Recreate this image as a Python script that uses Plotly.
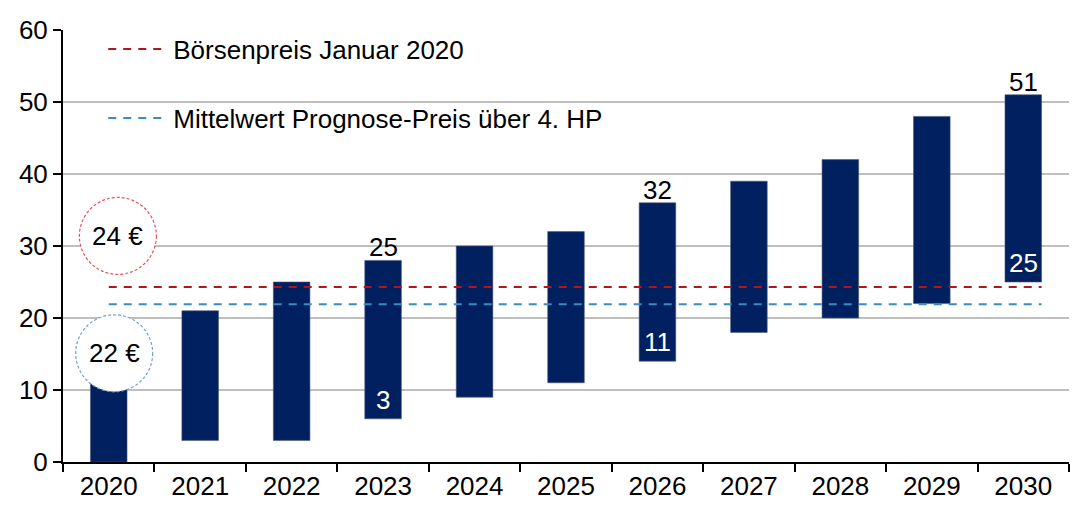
import plotly.graph_objects as go

years = [2020, 2021, 2022, 2023, 2024, 2025, 2026, 2027, 2028, 2029, 2030]
low = [0, 3, 3, 6, 9, 11, 14, 18, 20, 22, 25]
high = [12, 21, 25, 28, 30, 32, 36, 39, 42, 48, 51]

label_years = [2023, 2026, 2030]
top_labels = ["25", "32", "51"]
bottom_labels = ["3", "11", "25"]

boersen_price = 24.3
mean_forecast = 21.9
line_x = [2020, 2030.2]

circle_texts = ["24 €", "22 €"]
circle_x = [2020.1, 2020.06]
circle_y = [31.4, 15.1]
circle_colors = ["#E0565B", "#6FA3CF"]

FONT = "Arial, Liberation Sans, sans-serif"
navy = "#002060"

fig = go.Figure()
fig.add_trace(go.Bar(
    x=years, y=[h - l for h, l in zip(high, low)], base=low,
    width=0.4, marker=dict(color=navy, line=dict(color="#4a5878", width=0.6)),
    showlegend=False, hoverinfo="skip"))

fig.add_trace(go.Scatter(
    x=line_x, y=[boersen_price] * 2, mode="lines", name="Börsenpreis Januar 2020",
    line=dict(color="#B0161E", width=2, dash="8px,7px"), legendgroup="a"))
fig.add_trace(go.Scatter(
    x=line_x, y=[mean_forecast] * 2, mode="lines", name="Mittelwert Prognose-Preis über 4. HP",
    line=dict(color="#3A8BC2", width=2, dash="8px,7px"), legendgroup="b"))

yr_idx = {y: i for i, y in enumerate(years)}
for yv, t, b in zip(label_years, top_labels, bottom_labels):
    i = yr_idx[yv]
    fig.add_annotation(x=yv, y=high[i], text=t, showarrow=False, yanchor="bottom",
                       font=dict(size=26, color="black", family=FONT), yshift=-4)
    fig.add_annotation(x=yv, y=low[i], text=b, showarrow=False, yanchor="bottom",
                       font=dict(size=26, color="white", family=FONT), yshift=2)

for t, cx, cy, col in zip(circle_texts, circle_x, circle_y, circle_colors):
    fig.add_shape(type="circle", xref="x", yref="y", xsizemode="pixel", ysizemode="pixel",
                  xanchor=cx, yanchor=cy, x0=-38.5, x1=38.5, y0=-38.5, y1=38.5,
                  fillcolor="white", line=dict(color=col, width=1.2, dash="3px,2px"), layer="above")
    fig.add_annotation(x=cx, y=cy, text=t, showarrow=False,
                       font=dict(size=26, color="black", family=FONT))

fig.update_layout(
    width=1075, height=505,
    margin=dict(l=63, r=6, t=30, b=43),
    paper_bgcolor="white", plot_bgcolor="white",
    font=dict(family=FONT, size=26, color="black"),
    showlegend=True,
    legend=dict(x=0.04, y=1.01, xanchor="left", yanchor="top", bgcolor="rgba(0,0,0,0)",
                font=dict(size=26, family=FONT), itemwidth=60, tracegroupgap=32,
                traceorder="grouped"),
    bargap=0.6,
)
fig.update_xaxes(
    range=[2019.5, 2030.5], tickmode="array", tickvals=years,
    ticktext=[str(y) for y in years], ticks="", showgrid=False, automargin=False,
    showline=True, linecolor="black", linewidth=2, zeroline=False,
    tickfont=dict(size=26, family=FONT, color="black"),
    minor=dict(tickmode="array", tickvals=[y - 0.5 for y in years] + [2030.5],
               ticks="outside", ticklen=8, tickwidth=2, tickcolor="black", showgrid=False),
)
fig.update_yaxes(
    range=[0, 60], tickmode="array", tickvals=[0, 10, 20, 30, 40, 50, 60],
    ticks="outside", ticklen=8, tickwidth=2, tickcolor="black", automargin=False,
    showgrid=True, gridcolor="#BFBFBF", gridwidth=1.5,
    showline=True, linecolor="black", linewidth=2, zeroline=False,
    tickfont=dict(size=26, family=FONT, color="black"),
)

fig.write_html("out.html", config={"displayModeBar": False},
               post_script="document.body.style.margin='0px';")
